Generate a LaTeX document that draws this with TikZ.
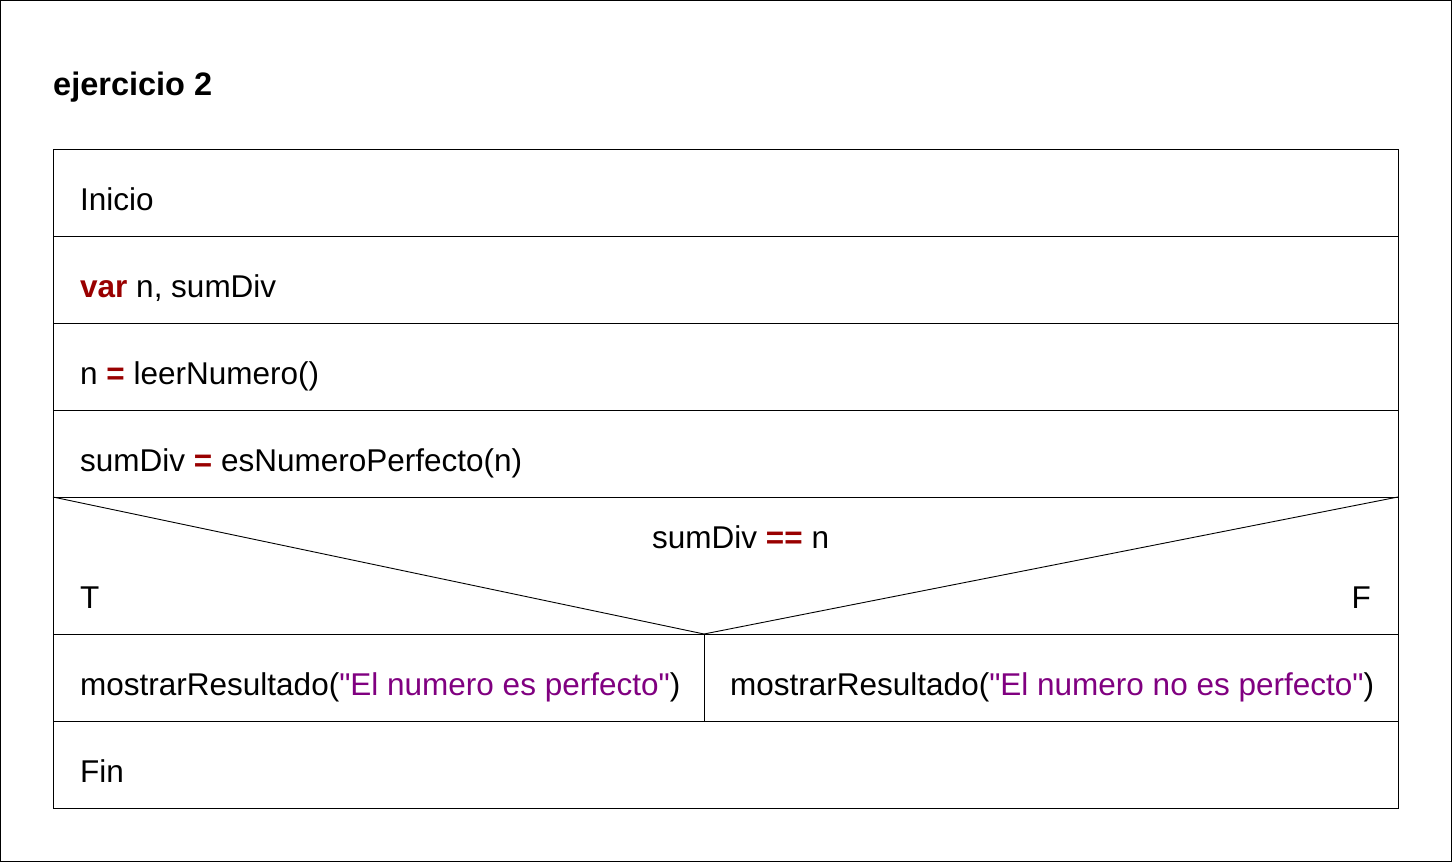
\documentclass[tikz,border=0pt]{standalone}
\usepackage{fontspec}
\setmainfont{Liberation Sans}
\newfontfamily\qfont{Liberation Sans}
\definecolor{kw}{HTML}{990000}
\definecolor{str}{HTML}{800080}
\tikzset{
  txt/.style={inner sep=0pt, anchor=base west, font=\fontsize{31.5}{38}\selectfont},
  cell/.style={draw=black, line width=1pt, inner sep=0pt, outer sep=0pt, anchor=north west, minimum height=87pt},
}
\newcommand{\kwd}[1]{\textcolor{kw}{\textbf{#1}}}
\newcommand{\strg}[1]{\textcolor{str}{{\qfont"}#1{\qfont"}}}
\begin{document}
\begin{tikzpicture}[x=1pt,y=-1pt]
\useasboundingbox (0,0) rectangle (1452,862);
\draw[line width=1pt] (0.5,0.5) rectangle (1451.5,861.5);
\node[txt, font=\fontsize{32.5}{38}\selectfont\bfseries] (title) at (53,95) {ejercicio 2};
% rows
\node[cell, minimum width=1345pt] (r1) at (53,149) {};
\node[cell, minimum width=1345pt] (r2) at (53,236) {};
\node[cell, minimum width=1345pt] (r3) at (53,323) {};
\node[cell, minimum width=1345pt] (r4) at (53,410) {};
\node[cell, minimum width=1345pt, minimum height=137pt] (dec) at (53,497) {};
\node[cell, minimum width=651pt] (tl) at (53,634) {};
\node[cell, minimum width=694pt] (fr) at (704,634) {};
\node[cell, minimum width=1345pt] (r7) at (53,721) {};
\draw[line width=0.9pt] (dec.north west) -- (fr.north west) -- (dec.north east);
% texts
\node[txt] (t1) at (80,210) {Inicio};
\node[txt] (t2) at (80,297) {\kwd{var} n, sumDiv};
\node[txt] (t3) at (80,384) {n \kwd{=} leerNumero()};
\node[txt] (t4) at (80,471) {sumDiv \kwd{=} esNumeroPerfecto(n)};
\node[txt] (tc) at (652,548) {sumDiv \kwd{==} n};
\node[txt] (tT) at (80,608) {T};
\node[txt, anchor=base east] (tF) at (1371,608) {F};
\node[txt] (t6a) at (80,695) {mostrarResultado(\strg{El numero es perfecto})};
\node[txt] (t6b) at (730,695) {mostrarResultado(\strg{El numero no es perfecto})};
\node[txt] (t7) at (80,782) {Fin};
\end{tikzpicture}
\end{document}
